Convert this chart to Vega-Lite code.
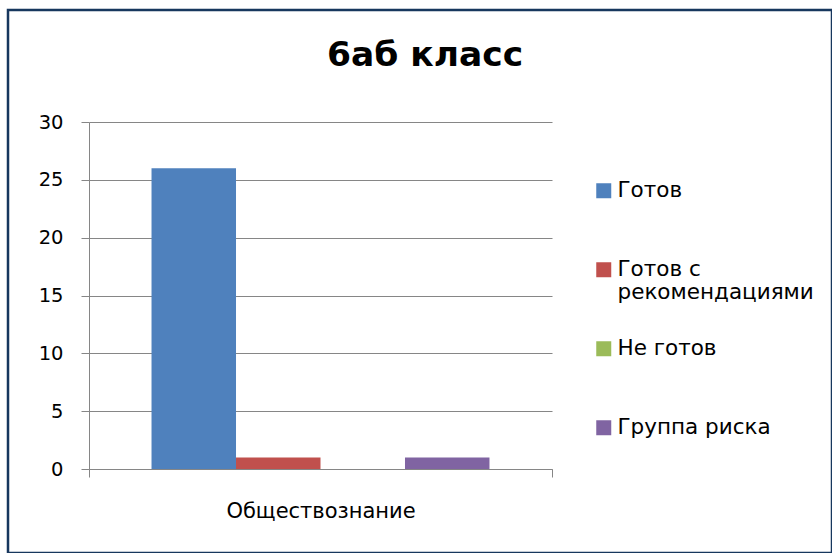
{
  "$schema": "https://vega.github.io/schema/vega-lite/v6.json",
  "autosize": {"type": "none"},
  "padding": {"left": 8, "top": 10, "right": 0, "bottom": 0},
  "width": 824,
  "height": 543,
  "background": "white",
  "config": {
    "font": "DejaVu Sans",
    "view": {"stroke": "#17375E", "strokeWidth": 2.5, "fill": "white"}
  },
  "title": {
    "text": "6аб класс",
    "font": "DejaVu Sans",
    "fontSize": 34.5,
    "fontWeight": "bold",
    "color": "#000000",
    "anchor": "middle",
    "frame": "group",
    "baseline": "alphabetic",
    "offset": -58,
    "dx": 5,
    "dy": 32
  },
  "data": {
    "values": [
      {"subject": "Обществознание", "status": "Готов", "count": 26},
      {"subject": "Обществознание", "status": "Готов с рекомендациями", "count": 1},
      {"subject": "Обществознание", "status": "Не готов", "count": 0},
      {"subject": "Обществознание", "status": "Группа риска", "count": 1}
    ]
  },
  "mark": {"type": "bar", "stroke": null},
  "encoding": {
    "x": {
      "field": "subject",
      "type": "nominal",
      "title": null,
      "scale": {"range": [81, 544], "paddingInner": 0, "paddingOuter": 0},
      "axis": {
        "orient": "bottom",
        "offset": -84,
        "labelAngle": 0,
        "labelFont": "DejaVu Sans",
        "labelFontSize": 21,
        "labelLimit": 400,
        "labelColor": "#000000",
        "labelPadding": 23,
        "tickBand": "extent",
        "tickSize": 8,
        "tickColor": "#868686",
        "domainColor": "#868686",
        "grid": false
      }
    },
    "xOffset": {
      "field": "status",
      "type": "nominal",
      "sort": ["Готов", "Готов с рекомендациями", "Не готов", "Группа риска"],
      "scale": {"paddingInner": 0, "paddingOuter": 0.74}
    },
    "y": {
      "field": "count",
      "type": "quantitative",
      "title": null,
      "scale": {"domain": [0, 30], "range": [459, 112], "nice": false, "zero": true},
      "axis": {
        "orient": "left",
        "offset": -81,
        "values": [0, 5, 10, 15, 20, 25, 30],
        "labelFont": "DejaVu Sans",
        "labelFontSize": 19.5,
        "labelColor": "#000000",
        "labelPadding": 18,
        "tickSize": 8,
        "tickColor": "#868686",
        "domainColor": "#868686",
        "gridColor": "#868686",
        "gridWidth": 1.2,
        "grid": true
      }
    },
    "color": {
      "field": "status",
      "type": "nominal",
      "sort": ["Готов", "Готов с рекомендациями", "Не готов", "Группа риска"],
      "scale": {
        "domain": ["Готов", "Готов с рекомендациями", "Не готов", "Группа риска"],
        "range": ["#4F81BD", "#C0504D", "#9BBB59", "#8064A2"]
      },
      "legend": {
        "title": null,
        "orient": "none",
        "legendX": 585,
        "legendY": 170,
        "symbolType": "square",
        "symbolSize": 225,
        "symbolStrokeWidth": 0,
        "labelFont": "DejaVu Sans",
        "labelFontSize": 21.5,
        "labelColor": "#000000",
        "labelOffset": 3,
        "labelLimit": 300,
        "labelBaseline": "middle",
        "gridAlign": "all",
        "rowPadding": 33,
        "labelExpr": "datum.label == 'Готов с рекомендациями' ? ['Готов с', 'рекомендациями'] : datum.label"
      }
    }
  }
}
